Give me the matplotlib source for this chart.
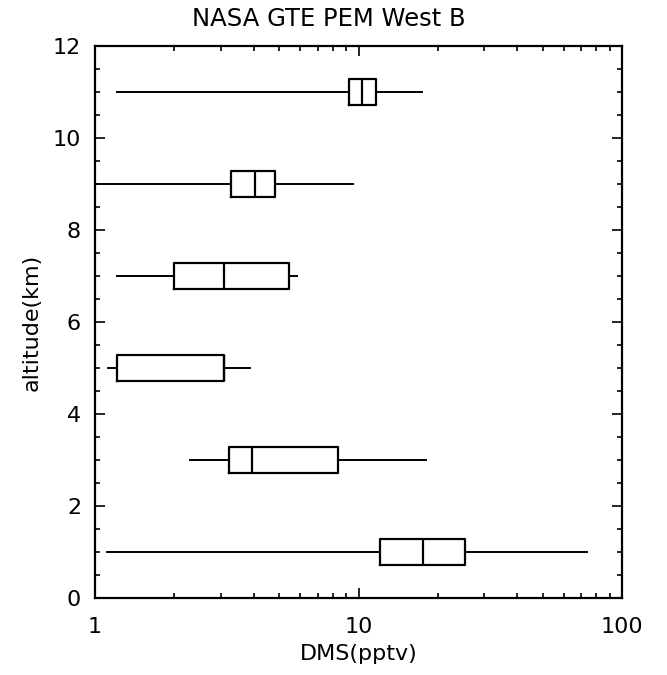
import matplotlib
matplotlib.use("Agg")
import matplotlib.pyplot as plt
from matplotlib.ticker import MultipleLocator, LogLocator, FixedLocator, FixedFormatter

# Data (DMS, pptv) per altitude bin
altitudes = [1, 3, 5, 7, 9, 11]
whisker_low = [1.11, 2.29, 1.12, 1.21, 1.0, 1.21]
q1 = [12.1, 3.22, 1.21, 2.0, 3.28, 9.2]
median = [17.6, 3.94, 3.09, 3.09, 4.05, 10.3]
q3 = [25.4, 8.36, 3.09, 5.45, 4.82, 11.7]
whisker_high = [73.6, 18.0, 3.88, 5.84, 9.5, 17.4]

x_ticks = [1, 10, 100]
x_ticklabels = ["1", "10", "100"]
y_ticks = [0, 2, 4, 6, 8, 10, 12]

plt.rcParams['font.family'] = ['DejaVu Sans']

fig = plt.figure(figsize=(6.67, 6.75), dpi=100)
ax = fig.add_axes([95/667, 1-598/675, (622-95)/667, (598-46)/675])

stats = []
for a, wl, a1, m, a3, wh in zip(altitudes, whisker_low, q1, median, q3, whisker_high):
    stats.append(dict(whislo=wl, q1=a1, med=m, q3=a3, whishi=wh, fliers=[]))

ax.bxp(stats, positions=altitudes, widths=0.55, orientation='horizontal',
       showcaps=False, showfliers=False,
       boxprops=dict(color='black', linewidth=1.6),
       whiskerprops=dict(color='black', linewidth=1.4),
       medianprops=dict(color='black', linewidth=1.6),
       manage_ticks=False)

ax.set_xscale('log')
ax.set_xlim(1, 100)
ax.set_ylim(0, 12)
ax.xaxis.set_major_locator(FixedLocator(x_ticks))
ax.xaxis.set_major_formatter(FixedFormatter(x_ticklabels))
ax.xaxis.set_minor_locator(LogLocator(base=10, subs=range(2, 10)))
ax.xaxis.set_minor_formatter(plt.NullFormatter())
ax.yaxis.set_major_locator(FixedLocator(y_ticks))
ax.yaxis.set_minor_locator(MultipleLocator(0.5))

ax.tick_params(which='both', direction='in', top=True, right=True, width=1.2,
               labelsize=16)
ax.tick_params(axis='x', pad=14)
ax.tick_params(axis='y', pad=10)
ax.tick_params(which='major', length=7)
ax.tick_params(which='minor', length=3.5)
for s in ax.spines.values():
    s.set_linewidth(1.6)

fig.text(329/667, 1-19/675, "NASA GTE PEM West B", fontsize=17.5,
         ha='center', va='center')
ax.set_xlabel("DMS(pptv)", fontsize=16, labelpad=5)
ax.set_ylabel("altitude(km)", fontsize=16, labelpad=8)

fig.savefig("out.png", dpi=100)
